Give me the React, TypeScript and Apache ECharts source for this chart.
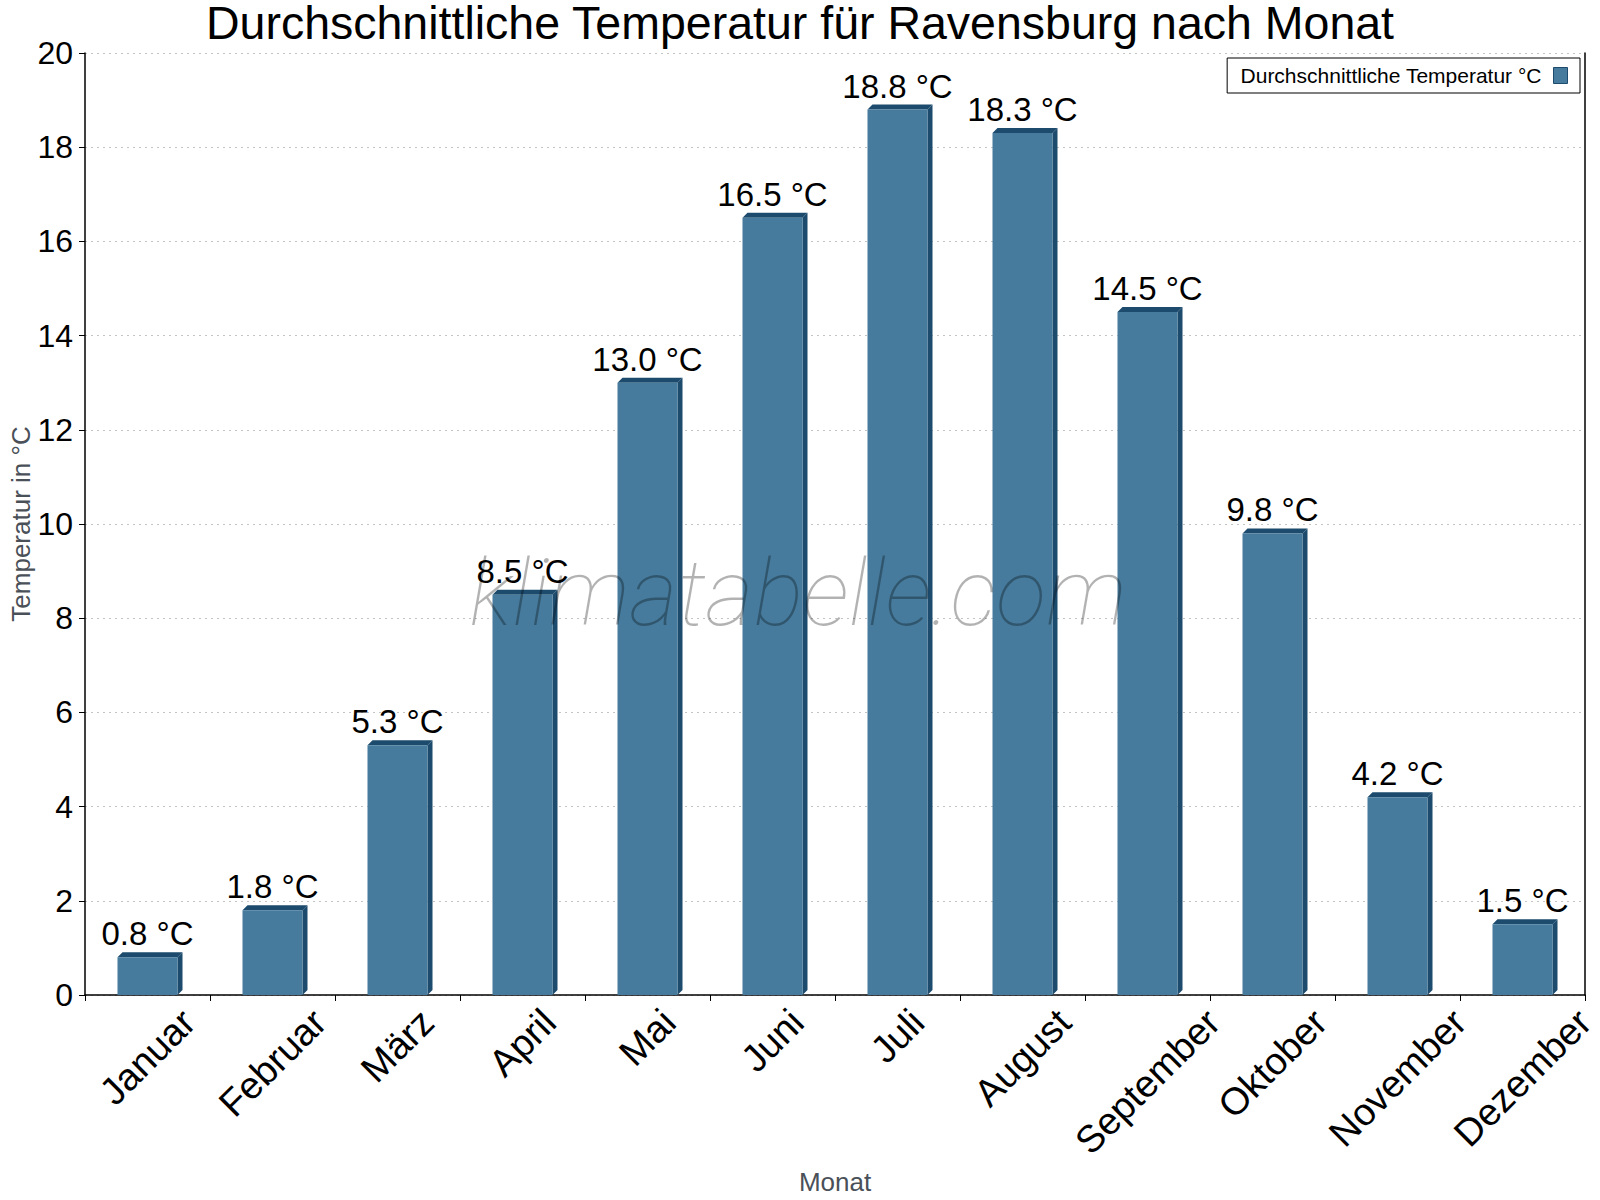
import React, { useEffect, useRef } from "react";
import * as echarts from "echarts";

// ---- data ----
const TITLE = "Durchschnittliche Temperatur für Ravensburg nach Monat";
const SERIES_NAME = "Durchschnittliche Temperatur °C";
const MONTHS = [
  "Januar",
  "Februar",
  "März",
  "April",
  "Mai",
  "Juni",
  "Juli",
  "August",
  "September",
  "Oktober",
  "November",
  "Dezember",
];
const TEMPS = [0.8, 1.8, 5.3, 8.5, 13.0, 16.5, 18.8, 18.3, 14.5, 9.8, 4.2, 1.5];
const Y_MIN = 0;
const Y_MAX = 20;
const Y_STEP = 2;
const X_AXIS_NAME = "Monat";
const Y_AXIS_NAME = "Temperatur in °C";
const UNIT = " °C";
const WATERMARK = "klimatabelle.com";

// ---- styles ----
const FONT = '"Liberation Sans", Arial, Helvetica, sans-serif';
const FRONT = "#467B9D";
const SIDE = "#1C4B6D";
const BAR_W = 60;
const DEPTH = 5;
const XL_SIZE = 38;
const XL_LH = 38;

function measure(text: string, size: number): number {
  const ctx = document.createElement("canvas").getContext("2d");
  if (!ctx) return text.length * size * 0.55;
  ctx.font = `${size}px ${FONT}`;
  return ctx.measureText(text).width;
}

export default function App() {
  const ref = useRef<HTMLDivElement>(null);

  useEffect(() => {
    if (!ref.current) return;
    const chart = echarts.init(ref.current, null, { renderer: "svg" });

    // rotated labels: bounding box centred under the category, top at a fixed line
    const categoryData = MONTHS.map((m) => {
      const L = measure(m, XL_SIZE);
      return {
        value: m,
        textStyle: {
          align: "center",
          verticalAlign: "top",
          padding: [L / 4, L / 2 + XL_LH, 0, 0],
        },
      };
    });

    const option: any = {
      animation: false,
      backgroundColor: "#ffffff",
      title: {
        text: TITLE,
        left: "center",
        top: 2,
        padding: 0,
        textStyle: {
          fontFamily: FONT,
          fontSize: 46.5,
          lineHeight: 42,
          fontWeight: "normal",
          color: "#000",
        },
      },
      legend: {
        data: [SERIES_NAME],
        right: 20,
        top: 58,
        align: "right",
        icon: "rect",
        borderColor: "#000",
        borderWidth: 1,
        borderRadius: 0,
        backgroundColor: "#fff",
        padding: [7, 12, 7, 13],
        itemWidth: 14,
        itemHeight: 16,
        textStyle: {
          fontFamily: FONT,
          fontSize: 21,
          color: "#000",
          padding: [0, 7, 0, 0],
        },
        itemStyle: { borderColor: SIDE, borderWidth: 1 },
      },
      grid: {
        left: 85,
        right: 15,
        top: 53,
        bottom: 205,
        containLabel: false,
        outerBoundsMode: "none",
      },
      xAxis: {
        type: "category",
        data: categoryData,
        name: X_AXIS_NAME,
        nameLocation: "middle",
        nameGap: 174,
        nameMoveOverlap: false,
        nameTextStyle: { fontFamily: FONT, fontSize: 26, color: "#4a5058" },
        axisLine: { show: true, lineStyle: { color: "#000", width: 1.5 } },
        axisTick: { show: true, length: 6, lineStyle: { color: "#000" } },
        axisLabel: {
          interval: 0,
          rotate: 45,
          margin: -6,
          fontFamily: FONT,
          fontSize: XL_SIZE,
          lineHeight: XL_LH,
          color: "#000",
          hideOverlap: false,
        },
        splitLine: { show: false },
      },
      yAxis: [
        {
          type: "value",
          min: Y_MIN,
          max: Y_MAX,
          interval: Y_STEP,
          name: Y_AXIS_NAME,
          nameLocation: "middle",
          nameGap: 51,
          nameMoveOverlap: false,
          nameTextStyle: { fontFamily: FONT, fontSize: 26, color: "#4a5058" },
          axisLine: { show: true, lineStyle: { color: "#000", width: 1.5 } },
          axisTick: { show: true, length: 6, lineStyle: { color: "#000" } },
          axisLabel: {
            fontFamily: FONT,
            fontSize: 32,
            color: "#000",
            margin: 12,
          },
          splitLine: {
            show: true,
            lineStyle: { color: "#c4c4c4", width: 1, type: [2, 4] },
          },
        },
        {
          type: "value",
          min: Y_MIN,
          max: Y_MAX,
          interval: Y_STEP,
          position: "right",
          axisLine: { show: true, lineStyle: { color: "#000", width: 1.5 } },
          axisTick: { show: false },
          axisLabel: { show: false },
          splitLine: { show: false },
        },
      ],
      series: [
        {
          name: SERIES_NAME,
          type: "bar",
          yAxisIndex: 0,
          data: TEMPS,
          barWidth: BAR_W,
          itemStyle: { color: FRONT },
          label: {
            show: true,
            position: "top",
            distance: 7,
            fontFamily: FONT,
            fontSize: 33,
            color: "#000",
            formatter: (p: any) => Number(p.value).toFixed(1) + UNIT,
          },
          z: 2,
        },
        {
          name: "depth",
          type: "custom",
          yAxisIndex: 0,
          silent: true,
          data: TEMPS.map((v, i) => [i, v]),
          encode: { x: 0, y: 1 },
          z: 2,
          renderItem: (params: any, api: any) => {
            const top = api.coord([api.value(0), api.value(1)]);
            const base = api.coord([api.value(0), 0]);
            const l = top[0] - BAR_W / 2;
            const r = top[0] + BAR_W / 2;
            const t = top[1];
            const b = base[1];
            return {
              type: "group",
              children: [
                {
                  type: "polygon",
                  shape: {
                    points: [
                      [l, t],
                      [l + DEPTH, t - DEPTH],
                      [r + DEPTH, t - DEPTH],
                      [r, t],
                    ],
                  },
                  style: { fill: SIDE },
                },
                {
                  type: "polygon",
                  shape: {
                    points: [
                      [r, t],
                      [r + DEPTH, t - DEPTH],
                      [r + DEPTH, b - DEPTH],
                      [r, b],
                    ],
                  },
                  style: { fill: SIDE },
                },
              ],
            };
          },
        },
      ],
      graphic: [
        {
          type: "text",
          x: 798,
          y: 593,
          z: 100,
          silent: true,
          style: {
            text: WATERMARK,
            fontFamily: 'Roboto, "Open Sans", sans-serif',
            fontSize: 93,
            fontStyle: "italic",
            fontWeight: 100,
            fill: "rgba(0,0,0,0.3)",
            align: "center",
            verticalAlign: "middle",
          },
        },
      ],
    };

    chart.setOption(option);
    return () => chart.dispose();
  }, []);

  return (
    <div
      ref={ref}
      style={{ position: "absolute", left: 0, top: 0, width: 1600, height: 1200 }}
    />
  );
}
